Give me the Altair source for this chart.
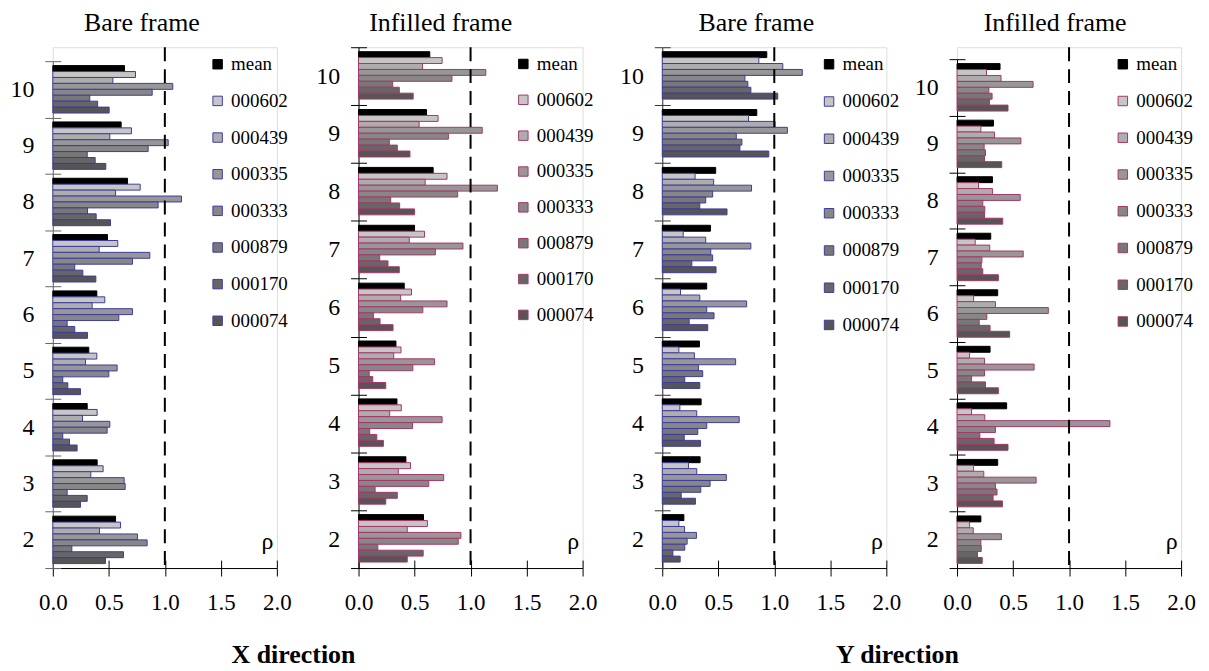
import altair as alt
import pandas as pd

FONT = "Liberation Serif"

stories = [10, 9, 8, 7, 6, 5, 4, 3, 2]
series = ["mean", "000602", "000439", "000335", "000333", "000879", "000170", "000074"]
fills = ["#000000", "#c6c6c6", "#adadad", "#979797", "#878787", "#777777", "#666666", "#555555"]
strokes_x = ["#000000"] + ["#3c3ca0"] * 7
strokes_y = ["#000000"] + ["#a8356a"] * 7

# values per series, stories 10 -> 2
x_bare = {
    "mean":   [0.64, 0.61, 0.667, 0.488, 0.393, 0.321, 0.307, 0.396, 0.56],
    "000602": [0.738, 0.702, 0.78, 0.58, 0.464, 0.393, 0.396, 0.449, 0.604],
    "000439": [0.536, 0.509, 0.56, 0.414, 0.351, 0.292, 0.265, 0.339, 0.417],
    "000335": [1.071, 1.03, 1.149, 0.866, 0.711, 0.574, 0.509, 0.637, 0.756],
    "000333": [0.887, 0.851, 0.94, 0.711, 0.589, 0.5, 0.485, 0.646, 0.842],
    "000879": [0.33, 0.307, 0.31, 0.196, 0.128, 0.089, 0.089, 0.128, 0.17],
    "000170": [0.40, 0.378, 0.387, 0.268, 0.196, 0.134, 0.149, 0.307, 0.631],
    "000074": [0.503, 0.473, 0.515, 0.384, 0.31, 0.247, 0.217, 0.247, 0.47],
}
x_infilled = {
    "mean":   [0.636, 0.607, 0.666, 0.5, 0.408, 0.334, 0.343, 0.423, 0.58],
    "000602": [0.746, 0.71, 0.79, 0.589, 0.473, 0.379, 0.382, 0.464, 0.615],
    "000439": [0.571, 0.541, 0.595, 0.453, 0.376, 0.314, 0.278, 0.355, 0.435],
    "000335": [1.136, 1.104, 1.24, 0.932, 0.79, 0.678, 0.746, 0.76, 0.914],
    "000333": [0.834, 0.802, 0.885, 0.686, 0.574, 0.485, 0.482, 0.627, 0.89],
    "000879": [0.305, 0.275, 0.287, 0.189, 0.133, 0.095, 0.1, 0.148, 0.172],
    "000170": [0.364, 0.346, 0.367, 0.263, 0.192, 0.127, 0.163, 0.346, 0.577],
    "000074": [0.488, 0.459, 0.5, 0.364, 0.308, 0.243, 0.222, 0.243, 0.435],
}
y_bare = {
    "mean":   [0.933, 0.844, 0.477, 0.43, 0.397, 0.332, 0.347, 0.338, 0.193],
    "000602": [0.862, 0.77, 0.293, 0.187, 0.163, 0.148, 0.157, 0.234, 0.148],
    "000439": [1.076, 1.007, 0.459, 0.388, 0.335, 0.287, 0.308, 0.308, 0.199],
    "000335": [1.25, 1.117, 0.797, 0.791, 0.753, 0.655, 0.687, 0.572, 0.305],
    "000333": [0.738, 0.661, 0.45, 0.433, 0.397, 0.323, 0.397, 0.427, 0.222],
    "000879": [0.764, 0.711, 0.388, 0.45, 0.462, 0.361, 0.317, 0.344, 0.201],
    "000170": [0.791, 0.693, 0.335, 0.264, 0.24, 0.201, 0.196, 0.169, 0.095],
    "000074": [1.031, 0.951, 0.578, 0.48, 0.406, 0.335, 0.341, 0.296, 0.16],
}
y_infilled = {
    "mean":   [0.384, 0.325, 0.316, 0.301, 0.363, 0.295, 0.443, 0.363, 0.213],
    "000602": [0.263, 0.213, 0.192, 0.162, 0.148, 0.112, 0.13, 0.148, 0.112],
    "000439": [0.393, 0.334, 0.316, 0.292, 0.343, 0.245, 0.248, 0.239, 0.145],
    "000335": [0.679, 0.57, 0.564, 0.591, 0.815, 0.688, 1.365, 0.706, 0.396],
    "000333": [0.284, 0.242, 0.23, 0.222, 0.266, 0.245, 0.343, 0.343, 0.213],
    "000879": [0.313, 0.254, 0.248, 0.216, 0.198, 0.13, 0.204, 0.357, 0.216],
    "000170": [0.29, 0.245, 0.245, 0.23, 0.295, 0.254, 0.331, 0.322, 0.183],
    "000074": [0.455, 0.399, 0.408, 0.369, 0.47, 0.369, 0.455, 0.405, 0.225],
}
x_ticks = [0.0, 0.5, 1.0, 1.5, 2.0]
ref_line = [1.0]

W = 225
H = 523


def make_df(vals):
    rows = []
    for s in series:
        for st, v in zip(stories, vals[s]):
            rows.append({"series": s, "story": st, "value": v})
    return pd.DataFrame(rows)


def panel(vals, strokes, title, title_dx, yrange, pad_outer, row_pad, leg_x, leg_y, domain_color):
    df = make_df(vals)
    yscale = alt.Scale(paddingInner=0, paddingOuter=0, range=yrange)
    xscale = alt.Scale(domain=[0, 2], nice=False, zero=True)
    leg = alt.Legend(orient="none", legendX=leg_x, legendY=leg_y, padding=0,
                     rowPadding=row_pad, symbolType="square", symbolSize=90,
                     symbolStrokeWidth=1, labelFontSize=19, labelFont=FONT,
                     labelOffset=4, labelColor="black")
    bars = alt.Chart(df).mark_bar(strokeWidth=1).encode(
        x=alt.X("value:Q", scale=xscale,
                axis=alt.Axis(values=x_ticks, format=".1f", tickSize=8, labelFontSize=23,
                              labelFont=FONT, labelPadding=16, labelFlush=False, grid=False,
                              domainColor="black", tickColor="black", labelColor="black",
                              title="ρ", titleX=215, titleY=-27, titleFontSize=24,
                              titleFontWeight="normal", titleFont=FONT, titleAlign="center",
                              titleBaseline="middle", titleColor="black")),
        y=alt.Y("story:O", sort=stories, scale=yscale,
                axis=alt.Axis(tickBand="extent", tickSize=8, labelFontSize=24, labelFont=FONT,
                              labelPadding=11, title=None, labelAngle=0,
                              domainColor=domain_color, tickColor=domain_color,
                              labelColor="black")),
        yOffset=alt.YOffset("series:N", sort=series,
                            scale=alt.Scale(domain=series, paddingInner=0, paddingOuter=pad_outer)),
        fill=alt.Fill("series:N", sort=series, scale=alt.Scale(domain=series, range=fills),
                      legend=leg, title=None),
        stroke=alt.Stroke("series:N", sort=series, scale=alt.Scale(domain=series, range=strokes),
                          legend=leg, title=None),
    )
    rule = alt.Chart(pd.DataFrame({"ref": ref_line})).mark_rule(
        strokeDash=[14, 8], strokeWidth=2, color="black").encode(
        x=alt.X("ref:Q", scale=xscale,
                axis=alt.Axis(orient="top", offset=-H, values=x_ticks, tickSize=8, labels=False,
                              domain=False, grid=False, title=None, tickColor="black"))
    )
    ticks = alt.Chart(df).mark_point(opacity=0).encode(
        y=alt.Y("story:O", sort=stories, scale=yscale,
                axis=alt.Axis(orient="right", offset=-W, tickBand="extent", tickSize=8,
                              labels=False, domain=False, grid=False, title=None,
                              tickColor=domain_color))
    )
    return alt.layer(bars, rule, ticks).resolve_axis(x="independent", y="independent").properties(
        width=W, height=H,
        title=alt.TitleParams(title, fontSize=26, font=FONT, fontWeight="normal", color="black",
                              anchor="middle", frame="group", dx=title_dx, offset=-1),
    )


p1 = panel(x_bare, strokes_x, "Bare frame", -23, [14, H], 0.75, 16.8, 156, 7.6, "#666666")
p2 = panel(x_infilled, strokes_y, "Infilled frame", -30, [0, H], 0.62, 16.0, 156, 7.3, "black")
p3 = panel(y_bare, strokes_x, "Bare frame", -18, [0, H], 0.62, 17.4, 158, 7.6, "#333333")
p4 = panel(y_infilled, strokes_y, "Infilled frame", -14, [12, H], 0.65, 16.9, 157, 7.6, "black")

left = alt.hconcat(p1, p2, spacing=82, bounds="flush",
                   title=alt.TitleParams("X direction", orient="bottom", fontSize=26, font=FONT,
                                         fontWeight="bold", color="black", anchor="middle",
                                         frame="bounds", dx=-10, offset=27)
                   ).resolve_scale(fill="independent", stroke="independent", x="independent", y="independent")
right = alt.hconcat(p3, p4, spacing=71, bounds="flush",
                    title=alt.TitleParams("Y direction", orient="bottom", fontSize=26, font=FONT,
                                          fontWeight="bold", color="black", anchor="middle",
                                          frame="bounds", dx=-10, offset=27)
                    ).resolve_scale(fill="independent", stroke="independent", x="independent", y="independent")

chart = alt.hconcat(left, right, spacing=21).resolve_scale(
    fill="independent", stroke="independent", x="independent", y="independent"
).properties(
    padding={"left": 1, "top": 0, "right": 5, "bottom": 2}
).configure_view(stroke=None).configure(
    background="white", font=FONT
).configure_axis(
    labelFont=FONT, titleFont=FONT
).configure_legend(
    labelFont=FONT, titleFont=FONT
).configure_title(font=FONT)

chart.save("out.html", embed_options={"renderer": "svg", "actions": False})
